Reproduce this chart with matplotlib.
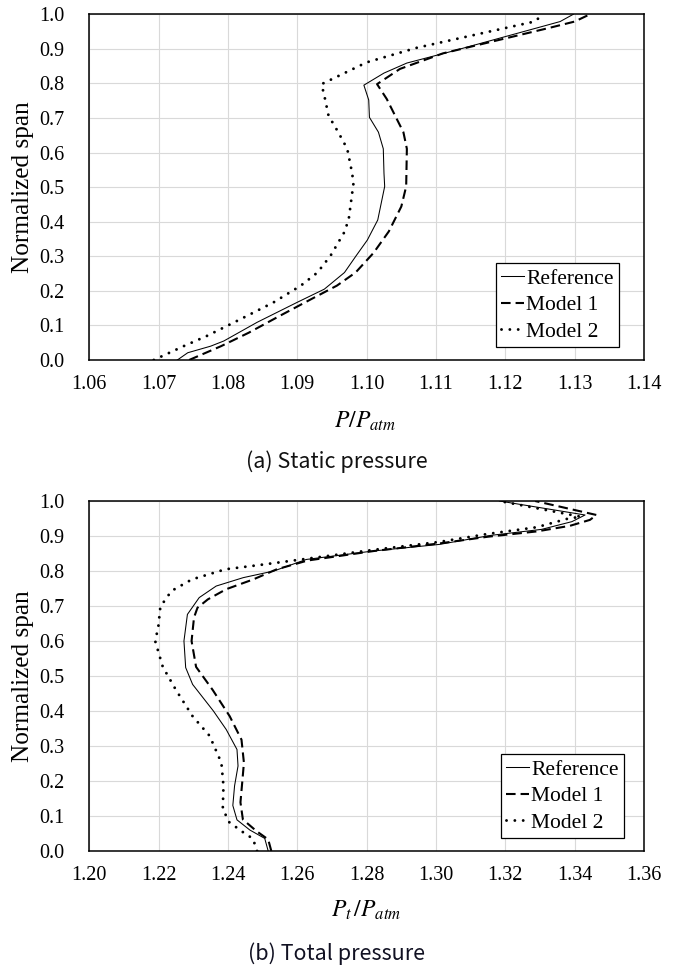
import matplotlib
matplotlib.use('Agg')
import matplotlib.pyplot as plt
from matplotlib.ticker import FormatStrFormatter, MultipleLocator

plt.rcParams['font.family'] = 'Liberation Serif'
plt.rcParams['mathtext.fontset'] = 'stix'

#%% data --------------------------------------------------------------------
# (a) static pressure, P/Patm vs normalized span
span_ref_a = [0.0, 0.021, 0.040, 0.055, 0.109, 0.167, 0.205, 0.253, 0.302, 0.347, 0.405,
              0.502, 0.54, 0.611, 0.659, 0.702, 0.752, 0.795, 0.83, 0.859, 0.892, 0.979, 1.0]
p_ref_a = [1.0727, 1.0742, 1.0775, 1.0794, 1.0842, 1.0900, 1.0939, 1.0968, 1.0985, 1.1001, 1.1016,
           1.1026, 1.1025, 1.1024, 1.1017, 1.1004, 1.1003, 1.0996, 1.1025, 1.1058, 1.1121, 1.1279, 1.1298]

span_m1_a = [0.0, 0.04, 0.079, 0.128, 0.176, 0.215, 0.253, 0.31, 0.372, 0.444, 0.502,
             0.611, 0.659, 0.755, 0.798, 0.842, 0.887, 0.961, 0.979, 1.0]
p_m1_a = [1.0744, 1.0790, 1.0830, 1.0875, 1.0920, 1.0957, 1.0984, 1.1010, 1.1032, 1.1050, 1.1057,
          1.1058, 1.1053, 1.1029, 1.1015, 1.1048, 1.1110, 1.1264, 1.1300, 1.1322]

span_m2_a = [0.0, 0.040, 0.070, 0.118, 0.167, 0.215, 0.253, 0.302, 0.367, 0.405, 0.511,
             0.541, 0.611, 0.659, 0.707, 0.755, 0.798, 0.861, 0.903, 0.946, 0.979, 1.0]
p_m2_a = [1.0693, 1.0736, 1.0770, 1.0818, 1.0866, 1.0905, 1.0929, 1.0948, 1.0967, 1.0974, 1.0981,
          1.0979, 1.0972, 1.0959, 1.0945, 1.0940, 1.0935, 1.1000, 1.1072, 1.1168, 1.1242, 1.1255]

# (b) total pressure, Pt/Patm vs normalized span
span_ref_b = [0.0, 0.036, 0.06, 0.089, 0.13, 0.186, 0.243, 0.29, 0.347, 0.40, 0.476, 0.524,
              0.6, 0.676, 0.724, 0.757, 0.781, 0.80, 0.833, 0.857, 0.876, 0.902, 0.919, 0.941,
              0.96, 1.0]
p_ref_b = [1.2516, 1.2506, 1.2463, 1.2426, 1.2414, 1.2419, 1.2429, 1.2426, 1.2395, 1.2358, 1.2298,
           1.2278, 1.2273, 1.2283, 1.2317, 1.2366, 1.2444, 1.2532, 1.2626, 1.2818, 1.3010, 1.3160,
           1.3305, 1.3392, 1.3430, 1.3183]

span_m1_b = [0.0, 0.033, 0.057, 0.09, 0.139, 0.195, 0.252, 0.318, 0.385, 0.46, 0.526, 0.6,
             0.667, 0.695, 0.719, 0.748, 0.776, 0.805, 0.83, 0.857, 0.879, 0.898, 0.913, 0.929,
             0.946, 0.96, 1.0]
p_m1_b = [1.2525, 1.2516, 1.2482, 1.2443, 1.2436, 1.2441, 1.2446, 1.2439, 1.2405, 1.2356, 1.2308,
          1.2295, 1.2302, 1.2312, 1.2342, 1.2395, 1.2473, 1.2541, 1.2630, 1.2820, 1.3012, 1.3150,
          1.3290, 1.3386, 1.3444, 1.3463, 1.3286]

span_m2_b = [0.0, 0.035, 0.054, 0.082, 0.12, 0.186, 0.252, 0.329, 0.385, 0.46, 0.526, 0.6,
             0.64, 0.698, 0.743, 0.776, 0.805, 0.817, 0.831, 0.86, 0.883, 0.906, 0.925, 0.95,
             0.955, 1.0]
p_m2_b = [1.2484, 1.2472, 1.2443, 1.2404, 1.2385, 1.2387, 1.2381, 1.2347, 1.2298, 1.2250, 1.2212,
          1.2190, 1.2199, 1.2205, 1.2237, 1.2296, 1.2393, 1.2490, 1.2597, 1.2816, 1.3009, 1.3150,
          1.3290, 1.3382, 1.3418, 1.3183]

labels = ['Reference', 'Model 1', 'Model 2']

#%% figure ------------------------------------------------------------------
fig = plt.figure(figsize=(6.84, 9.73), dpi=100)
W, H = 684.0, 973.0

ax1 = fig.add_axes([89.3/W, 1-360/H, 554.7/W, 345.7/H])
ax2 = fig.add_axes([89.3/W, 1-851/H, 554.7/W, 350/H])

sty_ref = dict(color='k', lw=0.75, ls='-')
sty_m1 = dict(color='k', lw=1.5, ls=(0, (4.6, 2.4)))
sty_m2 = dict(color='k', lw=2.1, ls=(0, (0.01, 2.85)), dash_capstyle='round')

ax1.plot(p_ref_a, span_ref_a, label=labels[0], **sty_ref)
ax1.plot(p_m1_a, span_m1_a, label=labels[1], **sty_m1)
ax1.plot(p_m2_a, span_m2_a, label=labels[2], **sty_m2)

ax2.plot(p_ref_b, span_ref_b, label=labels[0], **sty_ref)
ax2.plot(p_m1_b, span_m1_b, label=labels[1], **sty_m1)
ax2.plot(p_m2_b, span_m2_b, label=labels[2], **sty_m2)

ax1.set_xlim(1.06, 1.14)
ax1.xaxis.set_major_locator(MultipleLocator(0.01))
ax1.xaxis.set_major_formatter(FormatStrFormatter('%.2f'))
ax2.set_xlim(1.20, 1.36)
ax2.xaxis.set_major_locator(MultipleLocator(0.02))
ax2.xaxis.set_major_formatter(FormatStrFormatter('%.2f'))

for ax, anchor in ((ax1, (0.955, 0.037)), (ax2, (0.964, 0.037))):
    ax.set_ylim(0, 1.0)
    ax.yaxis.set_major_locator(MultipleLocator(0.1))
    ax.yaxis.set_major_formatter(FormatStrFormatter('%.1f'))
    ax.grid(True, color='#d9d9d9', lw=0.8)
    ax.set_axisbelow(True)
    ax.tick_params(axis='both', length=0, labelsize=14.5)
    ax.tick_params(axis='y', pad=18)
    ax.tick_params(axis='x', pad=11)
    for s in ax.spines.values():
        s.set_linewidth(1.1)
        s.set_color('k')
    leg = ax.legend(loc='lower right', bbox_to_anchor=anchor, borderaxespad=0,
                    fontsize=15.5, frameon=True, fancybox=False, framealpha=1,
                    handlelength=1.05, handletextpad=0.1, labelspacing=0.3,
                    borderpad=0.25)
    leg.get_frame().set_edgecolor('k')
    leg.get_frame().set_linewidth(0.9)

# axis labels
for yc in (187, 676):
    fig.text(23/W, 1-yc/H, 'Normalized span', rotation=90, ha='center', va='center',
             fontsize=18.2)
fig.text(365/W, 1-428/H, r'$P/P_{atm}$', ha='center', va='baseline', fontsize=17)
fig.text(366/W, 1-917/H, r'$P_t\,/P_{atm}$', ha='center', va='baseline', fontsize=17)

# captions
fig.text(337/W, 1-462/H, '(a) Static pressure', ha='center', va='center',
         fontsize=15.5, family='Noto Sans CJK KR', color='#111111')
fig.text(336/W, 1-954/H, '(b) Total pressure', ha='center', va='center',
         fontsize=15.5, family='Noto Sans CJK KR', color='#111122')

plt.savefig('out.png', dpi=100)
